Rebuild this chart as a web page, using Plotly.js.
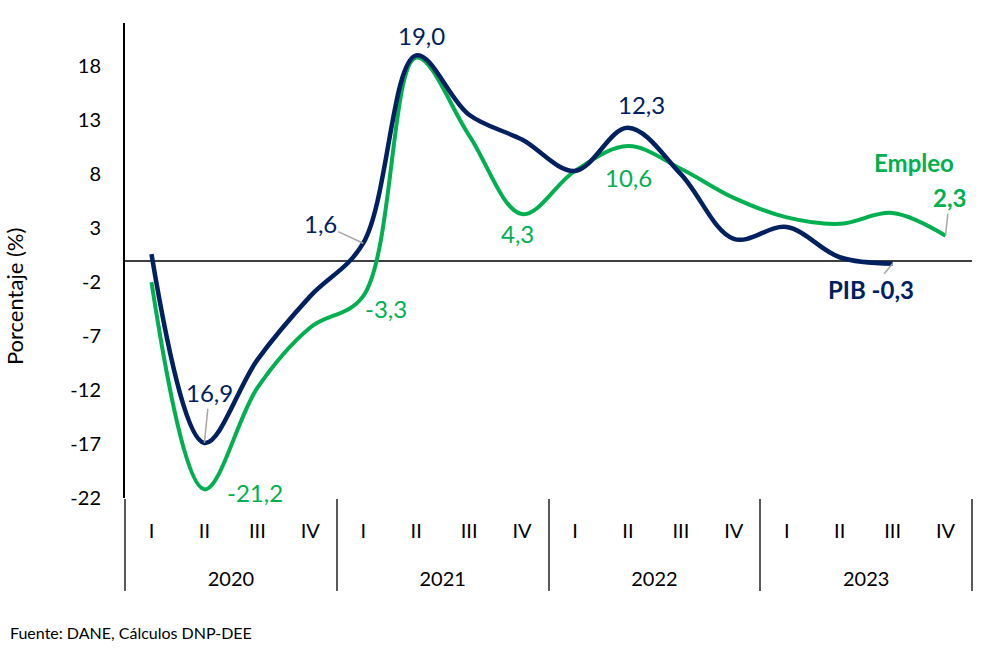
<!DOCTYPE html>
<html>
<head>
<meta charset="utf-8">
<script src="https://cdn.plot.ly/plotly-3.0.1.min.js"></script>
<style>
html,body{margin:0;padding:0;background:#fff;}
#chart{width:1000px;height:652px;}
</style>
</head>
<body>
<div id="chart"></div>
<script>
// ---- data ----
const years = ['2020','2020','2020','2020','2021','2021','2021','2021','2022','2022','2022','2022','2023','2023','2023','2023'];
const quarters = ['I','II','III','IV','I','II','III','IV','I','II','III','IV','I','II','III','IV'];
const pib    = [0.6, -16.9, -9.2, -3.3, 1.6, 19.0, 13.5, 11.2, 8.3, 12.3, 8.0, 2.0, 3.1, 0.3, -0.3, null];
const empleo = [-2.0, -21.2, -11.8, -6.2, -3.3, 18.8, 11.6, 4.3, 8.3, 10.6, 8.5, 5.8, 4.0, 3.4, 4.4, 2.3];
const yTicks = [-22, -17, -12, -7, -2, 3, 8, 13, 18];
const fuente = 'Fuente: DANE, Cálculos DNP-DEE';
const yTitle = 'Porcentaje (%)';

const NAVY = '#002060';
const GREEN = '#00b050';
const LEADER = '#a6a6a6';
const FONT = 'Lato, "Open Sans", sans-serif';

const traces = [
  {x: [years, quarters], y: empleo, type: 'scatter', mode: 'lines', name: 'Empleo',
   line: {color: GREEN, width: 4, shape: 'spline', smoothing: 1}, hoverinfo: 'skip'},
  {x: [years, quarters], y: pib, type: 'scatter', mode: 'lines', name: 'PIB',
   line: {color: NAVY, width: 4.5, shape: 'spline', smoothing: 1}, hoverinfo: 'skip'}
];

function lab(i, series, text, color, opts) {
  return Object.assign({
    xref: 'x', yref: 'y', x: i, y: series[i], text: text,
    font: {family: FONT, size: 24, color: color},
    showarrow: false
  }, opts);
}
function lead(i, series, text, color, ax, ay, bold) {
  return {
    xref: 'x', yref: 'y', x: i, y: series[i], text: bold ? '<b>' + text + '</b>' : text,
    font: {family: FONT, size: 24, color: color},
    showarrow: true, arrowhead: 0, arrowwidth: 1.5, arrowcolor: LEADER,
    ax: ax, ay: ay, standoff: 0
  };
}
const fmt = v => v.toFixed(1).replace('.', ',');

const annotations = [
  lab(5, pib, fmt(pib[5]), NAVY, {xshift: 5, yshift: 20}),
  lead(4, pib, fmt(pib[4]), NAVY, -43, -20),
  lab(4, empleo, fmt(empleo[4]), GREEN, {xshift: 23, yshift: -12}),
  lead(1, pib, fmt(Math.abs(pib[1])), NAVY, 5, -50),
  lab(1, empleo, fmt(empleo[1]), GREEN, {xshift: 51, yshift: -3}),
  lab(7, empleo, fmt(empleo[7]), GREEN, {xshift: -5, yshift: -19}),
  lab(9, pib, fmt(pib[9]), NAVY, {xshift: 14, yshift: 23}),
  lab(9, empleo, fmt(empleo[9]), GREEN, {xshift: 1, yshift: -31}),
  lab(15, empleo, '<b>Empleo</b>', GREEN, {xshift: -32, yshift: 73}),
  lead(15, empleo, fmt(empleo[15]), GREEN, 4, -38, true),
  lead(14, pib, 'PIB ' + fmt(pib[14]), NAVY, -22, 26, true),
  {xref: 'paper', yref: 'paper', x: -0.131, y: 0.423, xanchor: 'center', yanchor: 'middle',
   text: yTitle, textangle: -90, showarrow: false,
   font: {family: FONT, size: 22, color: '#000'}},
  {xref: 'paper', yref: 'paper', x: -0.138, y: -0.284, xanchor: 'left', yanchor: 'middle',
   text: fuente, showarrow: false,
   font: {family: FONT, size: 16, color: '#000'}}
];

const layout = {
  width: 1000, height: 652,
  margin: {l: 125, r: 28, t: 23, b: 154},
  paper_bgcolor: '#fff', plot_bgcolor: '#fff',
  showlegend: false,
  font: {family: FONT, color: '#000'},
  xaxis: {
    type: 'multicategory', range: [-0.5, 15.5],
    showgrid: false, zeroline: false, showline: false,
    ticks: 'outside', tickson: 'labels', ticklen: 37, tickcolor: 'rgba(0,0,0,0)',
    ticklabelstandoff: -22,
    showdividers: true, dividercolor: '#595959', dividerwidth: 2,
    tickfont: {family: FONT, size: 20, color: '#000'}
  },
  yaxis: {
    range: [-22, 22], tickmode: 'array', tickvals: yTicks, ticktext: yTicks.map(String),
    showgrid: false, zeroline: true, zerolinecolor: '#404040', zerolinewidth: 2,
    showline: true, linecolor: '#000', linewidth: 2, ticks: '',
    tickfont: {family: FONT, size: 20, color: '#000'},
    ticklabelstandoff: 18
  },
  annotations: annotations
};

Plotly.newPlot('chart', traces, layout, {displayModeBar: false, staticPlot: true});
</script>
</body>
</html>
